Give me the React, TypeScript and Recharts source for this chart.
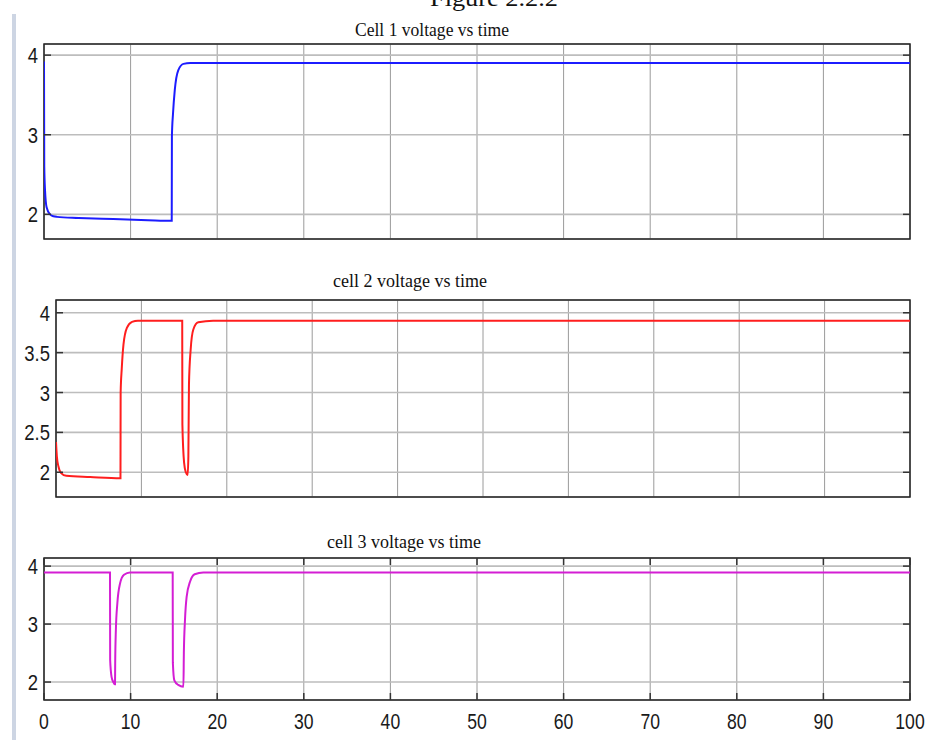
import React from 'react';
import {
  LineChart,
  Line,
  XAxis,
  YAxis,
  CartesianGrid,
  ReferenceArea,
} from 'recharts';

// ── data (time in s, voltage in V) ──

const X_TICKS = [0, 10, 20, 30, 40, 50, 60, 70, 80, 90, 100];
const Y_TICKS_WIDE = [2, 3, 4];
const Y_TICKS_FINE = [2, 2.5, 3, 3.5, 4];

const cell1Time = [0, 0.03, 0.12, 0.3, 0.7, 1.1, 1.5, 4, 8, 12, 14.75, 14.77, 14.9, 15.1, 15.5, 16.1, 16.9, 100];
const cell1Volt = [3.92, 2.6, 2.3, 2.09, 2.0, 1.975, 1.968, 1.955, 1.94, 1.926, 1.918, 2.98, 3.27, 3.56, 3.81, 3.89, 3.9, 3.9];

const cell2Time = [0, 0.1, 0.27, 0.6, 1.2, 4, 7.55, 7.57, 7.7, 7.9, 8.3, 8.9, 9.6, 14.78, 14.8, 15.0, 15.2, 15.42, 15.5, 15.57, 15.77, 16.08, 16.66, 18.4, 100];
const cell2Volt = [2.38, 2.2, 2.08, 1.99, 1.955, 1.94, 1.925, 3.0, 3.3, 3.6, 3.81, 3.885, 3.9, 3.9, 2.6, 2.12, 2.0, 1.965, 2.2, 3.1, 3.54, 3.79, 3.88, 3.9, 3.9];

const cell3Time = [0, 7.62, 7.64, 7.8, 8.0, 8.2, 8.22, 8.3, 8.47, 8.78, 9.24, 9.93, 14.86, 14.88, 15.05, 15.5, 16.1, 16.15, 16.28, 16.47, 16.86, 17.4, 18.4, 100];
const cell3Volt = [3.89, 3.89, 2.38, 2.09, 2.0, 1.96, 2.32, 2.9, 3.36, 3.7, 3.85, 3.89, 3.89, 2.33, 2.03, 1.95, 1.92, 2.5, 3.07, 3.47, 3.73, 3.86, 3.89, 3.89];

const toRows = (t: number[], v: number[]) => t.map((time, i) => ({ t: time, v: v[i] }));

// ── panel layout ──

interface Panel {
  title: string;
  rows: { t: number; v: number }[];
  color: string;
  yTicks: number[];
  yDomain: [number, number];
  top: number; // div top on page
  height: number;
  plotTop: number; // page coords
  plotBottom: number;
  plotLeft: number;
  titleX: number;
  titleY: number;
  showXLabels: boolean;
}

const PLOT_RIGHT = 910;
const Y_AXIS_W = 40;

const PANELS: Panel[] = [
  {
    title: 'Cell 1 voltage vs time',
    rows: toRows(cell1Time, cell1Volt),
    color: '#1c1cff',
    yTicks: Y_TICKS_WIDE,
    yDomain: [1.69, 4.14],
    top: 0,
    height: 245,
    plotTop: 44,
    plotBottom: 239,
    plotLeft: 44,
    titleX: 432,
    titleY: 36,
    showXLabels: false,
  },
  {
    title: 'cell 2 voltage vs time',
    rows: toRows(cell2Time, cell2Volt),
    color: '#ff1e1e',
    yTicks: Y_TICKS_FINE,
    yDomain: [1.69, 4.16],
    top: 250,
    height: 252,
    plotTop: 300,
    plotBottom: 497,
    plotLeft: 56,
    titleX: 410,
    titleY: 287,
    showXLabels: false,
  },
  {
    title: 'cell 3 voltage vs time',
    rows: toRows(cell3Time, cell3Volt),
    color: '#d41ed4',
    yTicks: Y_TICKS_WIDE,
    yDomain: [1.69, 4.14],
    top: 505,
    height: 235,
    plotTop: 558,
    plotBottom: 700,
    plotLeft: 44,
    titleX: 404,
    titleY: 548,
    showXLabels: true,
  },
];

const TICK_LEN = 7;
const TICK_COLOR = '#333';
const SANS = '"Liberation Sans", Arial, sans-serif';
const SERIF = '"Liberation Serif", "Times New Roman", serif';

function PanelChart({ p }: { p: Panel }) {
  // plot bounds in the chart's own svg coordinates
  const top = p.plotTop - p.top;
  const bottom = p.plotBottom - p.top;
  const left = p.plotLeft;
  const right = PLOT_RIGHT;
  const xAxisH = p.showXLabels ? 30 : 0;
  const marginBottom = p.height - bottom - xAxisH;

  const renderYTick = (props: any) => {
    const { x, y, payload } = props;
    return (
      <g>
        <text
          transform={`translate(${x},${y}) scale(0.84,1)`}
          dy={8}
          textAnchor="end"
          fontFamily={SANS}
          fontSize={22}
          fill="#1a1a1a"
        >
          {payload.value}
        </text>
        <line x1={left} x2={left + TICK_LEN} y1={y} y2={y} stroke={TICK_COLOR} strokeWidth={1.5} />
        <line x1={right - TICK_LEN} x2={right} y1={y} y2={y} stroke={TICK_COLOR} strokeWidth={1.5} />
      </g>
    );
  };

  const renderXTick = (props: any) => {
    const { x, payload } = props;
    return (
      <g>
        <line x1={x} x2={x} y1={top} y2={top + TICK_LEN} stroke={TICK_COLOR} strokeWidth={1.5} />
        <line x1={x} x2={x} y1={bottom - TICK_LEN} y2={bottom} stroke={TICK_COLOR} strokeWidth={1.5} />
        {p.showXLabels && (
          <text
            transform={`translate(${x},${bottom + 29}) scale(0.8,1)`}
            textAnchor="middle"
            fontFamily={SANS}
            fontSize={22}
            fill="#1a1a1a"
          >
            {payload.value}
          </text>
        )}
      </g>
    );
  };

  return (
    <div style={{ position: 'absolute', left: 0, top: p.top }}>
      <LineChart
        width={928}
        height={p.height}
        data={p.rows}
        margin={{ top, right: 928 - right, bottom: marginBottom, left: left - Y_AXIS_W }}
      >
        <CartesianGrid horizontal={false} stroke="#9a9a9a" strokeWidth={1} />
        <CartesianGrid vertical={false} stroke="#bdbdbd" strokeWidth={1.6} />
        <XAxis
          dataKey="t"
          type="number"
          domain={[0, 100]}
          ticks={X_TICKS}
          interval={0}
          allowDataOverflow
          height={xAxisH}
          axisLine={false}
          tickLine={false}
          tick={renderXTick}
        />
        <YAxis
          type="number"
          domain={p.yDomain}
          ticks={p.yTicks}
          interval={0}
          allowDataOverflow
          width={Y_AXIS_W}
          axisLine={false}
          tickLine={false}
          tickSize={0}
          tickMargin={6}
          tick={renderYTick}
        />
        <ReferenceArea
          x1={0}
          x2={100}
          y1={p.yDomain[0]}
          y2={p.yDomain[1]}
          fill="none"
          fillOpacity={0}
          stroke="#222"
          strokeWidth={1.5}
          ifOverflow="visible"
        />
        <Line
          type="monotone"
          dataKey="v"
          stroke={p.color}
          strokeWidth={2}
          dot={false}
          isAnimationActive={false}
        />
      </LineChart>
    </div>
  );
}

export default function App() {
  return (
    <div style={{ position: 'absolute', left: 0, top: 0, width: 928, height: 740, background: '#fff', overflow: 'hidden' }}>
      <svg width={928} height={740} style={{ position: 'absolute', left: 0, top: 0 }}>
        <rect x={12} y={14} width={4} height={726} fill="#cdd5e3" />
        <text x={494} y={6} textAnchor="middle" fontFamily={SERIF} fontSize={24} fill="#111" textLength={128} lengthAdjust="spacingAndGlyphs">
          Figure 2.2.2
        </text>
        {PANELS.map((p) => (
          <text
            key={p.title}
            x={p.titleX}
            y={p.titleY}
            textAnchor="middle"
            fontFamily={SERIF}
            fontSize={19}
            fill="#111"
            textLength={154}
            lengthAdjust="spacingAndGlyphs"
          >
            {p.title}
          </text>
        ))}
      </svg>
      {PANELS.map((p) => (
        <PanelChart key={p.title} p={p} />
      ))}
    </div>
  );
}
